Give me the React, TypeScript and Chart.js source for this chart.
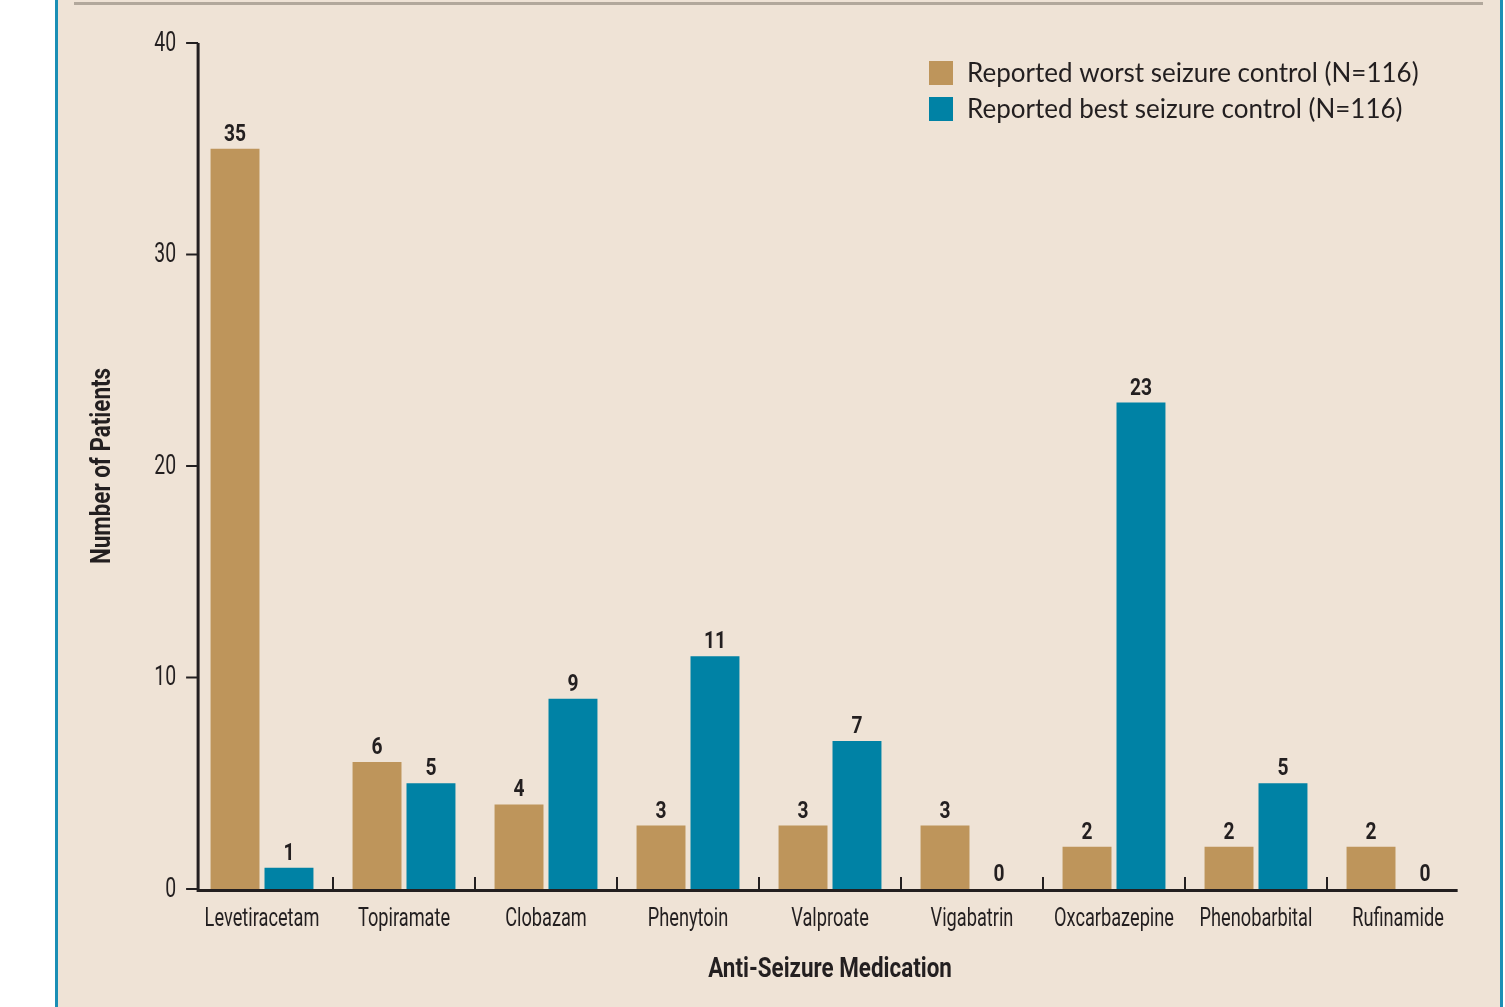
import React, { useEffect, useRef } from "react";
import { Chart, registerables } from "chart.js";

Chart.register(...registerables);

const categories = [
  "Levetiracetam",
  "Topiramate",
  "Clobazam",
  "Phenytoin",
  "Valproate",
  "Vigabatrin",
  "Oxcarbazepine",
  "Phenobarbital",
  "Rufinamide",
];
const worstControl = [35, 6, 4, 3, 3, 3, 2, 2, 2];
const bestControl = [1, 5, 9, 11, 7, 0, 23, 5, 0];
const seriesLabels = [
  "Reported worst seizure control (N=116)",
  "Reported best seizure control (N=116)",
];
const yTicks = [0, 10, 20, 30, 40];
const xTitle = "Anti-Seizure Medication";
const yTitle = "Number of Patients";

const BROWN = "#be955b";
const BLUE = "#0082a5";
const INK = "#231f20";
const BG = "#efe3d6";
const COND = "Roboto, 'Liberation Sans', sans-serif";
const LEGEND_FONT = "Lato, 'Liberation Sans', sans-serif";

function txt(
  ctx: CanvasRenderingContext2D,
  s: string,
  x: number,
  y: number,
  font: string,
  sx: number,
  align: CanvasTextAlign,
  baseline: CanvasTextBaseline,
  rot = 0
) {
  ctx.save();
  ctx.translate(x, y);
  if (rot) ctx.rotate(rot);
  ctx.scale(sx, 1);
  ctx.font = font;
  ctx.textAlign = align;
  ctx.textBaseline = baseline;
  ctx.fillText(s, 0, 0);
  ctx.restore();
}

const decorPlugin = {
  id: "decor",
  afterDatasetsDraw(chart: any) {
    const { ctx, chartArea } = chart;
    const xs = chart.scales.x;
    const ys = chart.scales.y;
    const axisX = xs.getPixelForValue(-0.45);
    const axisEnd = xs.getPixelForValue(8.42);
    const axisY = ys.getPixelForValue(0);
    const top = ys.getPixelForValue(40);
    ctx.save();
    ctx.strokeStyle = INK;
    ctx.fillStyle = INK;
    ctx.lineWidth = 3;
    ctx.beginPath();
    ctx.moveTo(axisX, top);
    ctx.lineTo(axisX, axisY + 1.5);
    ctx.lineTo(axisEnd, axisY + 1.5);
    ctx.stroke();
    ctx.lineWidth = 2;
    // y ticks + labels
    yTicks.forEach((v) => {
      const y = ys.getPixelForValue(v);
      ctx.beginPath();
      ctx.moveTo(axisX - 12, y);
      ctx.lineTo(axisX, y);
      ctx.stroke();
      txt(ctx, String(v), axisX - 22, y + 1, `27px ${COND}`, 0.72, "right", "middle");
    });
    // x ticks at category boundaries
    for (let i = 1; i < categories.length; i++) {
      const x = xs.getPixelForValue(i - 0.5);
      ctx.beginPath();
      ctx.moveTo(x, axisY - 12);
      ctx.lineTo(x, axisY);
      ctx.stroke();
    }
    // x labels
    chart.data.labels.forEach((lab: string, i: number) => {
      txt(ctx, lab, xs.getPixelForValue(i), axisY + 30, `26px ${COND}`, 0.7, "center", "middle");
    });
    // titles
    txt(ctx, xTitle, (chartArea.left + chartArea.right) / 2, axisY + 81, `bold 27px ${COND}`, 0.83, "center", "middle");
    txt(ctx, yTitle, chartArea.left - 88, (top + axisY) / 2, `bold 27px ${COND}`, 0.83, "center", "middle", -Math.PI / 2);
    // value labels
    chart.data.datasets.forEach((ds: any, di: number) => {
      const meta = chart.getDatasetMeta(di);
      meta.data.forEach((bar: any, i: number) => {
        txt(ctx, String(ds.data[i]), bar.x, bar.y - 8, `bold 24px ${COND}`, 0.8, "center", "alphabetic");
      });
    });
    // legend
    const lx = chartArea.right - 540;
    chart.data.datasets.forEach((ds: any, di: number) => {
      const cy = 73 + di * 36;
      ctx.fillStyle = ds.backgroundColor;
      ctx.fillRect(lx, cy - 12, 24, 24);
      ctx.fillStyle = INK;
      txt(ctx, ds.label, lx + 38, cy + 1, `26px ${LEGEND_FONT}`, 1, "left", "middle");
    });
    ctx.restore();
  },
};

export default function App() {
  const ref = useRef<HTMLCanvasElement | null>(null);
  useEffect(() => {
    if (!ref.current) return;
    const chart = new Chart(ref.current, {
      type: "bar",
      data: {
        labels: categories,
        datasets: [
          {
            label: seriesLabels[0],
            data: worstControl,
            backgroundColor: BROWN,
            barPercentage: 0.907,
            categoryPercentage: 0.76,
          },
          {
            label: seriesLabels[1],
            data: bestControl,
            backgroundColor: BLUE,
            barPercentage: 0.907,
            categoryPercentage: 0.76,
          },
        ],
      },
      options: {
        animation: false,
        responsive: false,
        maintainAspectRatio: false,
        layout: { padding: { left: 80, right: 36, top: 43, bottom: 0 } },
        plugins: { legend: { display: false }, tooltip: { enabled: false } },
        scales: {
          x: {
            grid: { display: false, drawTicks: false },
            border: { display: false },
            ticks: { display: false },
            afterFit: (s: any) => {
              s.height = 118;
            },
          },
          y: {
            min: 0,
            max: 40,
            grid: { display: false, drawTicks: false },
            border: { display: false },
            ticks: { display: false, stepSize: 10 },
            afterFit: (s: any) => {
              s.width = 111;
            },
          },
        },
      } as any,
      plugins: [decorPlugin],
    });
    return () => chart.destroy();
  }, []);

  return (
    <div style={{ position: "fixed", left: 0, top: 0, width: 1505, height: 1007, background: "#ffffff", overflow: "hidden" }}>
      <div style={{ position: "absolute", left: 55, top: 0, width: 1448, height: 1007, background: "#1b8fb5" }} />
      <div style={{ position: "absolute", left: 58, top: 0, width: 1442, height: 1007, background: BG }} />
      <div style={{ position: "absolute", left: 74, top: 2, width: 1409, height: 3, background: "#b2a89c" }} />
      <canvas ref={ref} width={1505} height={1007} style={{ position: "absolute", left: 0, top: 0 }} />
    </div>
  );
}
